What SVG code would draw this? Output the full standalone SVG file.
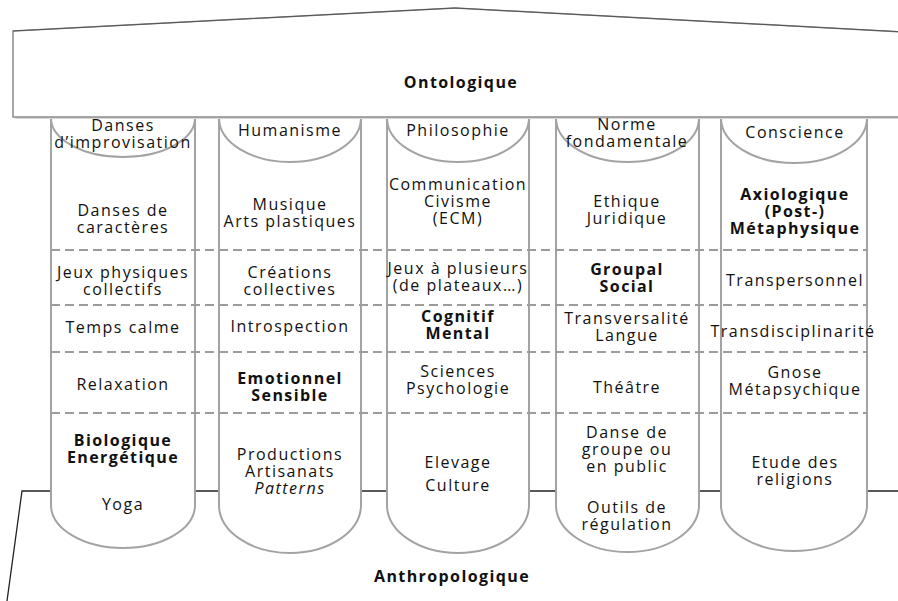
<svg xmlns="http://www.w3.org/2000/svg" width="898" height="601" viewBox="0 0 898 601">
<style>
.col{fill:#fff;stroke:#a3a3a3;stroke-width:2}
.cap{fill:none;stroke:#a3a3a3;stroke-width:2}
.div{fill:none;stroke:#9c9c9c;stroke-width:2.2;stroke-dasharray:9 5}
text{font-family:"Open Sans","Noto Sans","DejaVu Sans",sans-serif;font-size:16px;letter-spacing:1.5px;fill:#111;text-anchor:middle}
.b{font-weight:bold;font-size:16px;letter-spacing:1.4px}
.i{font-style:italic}
</style>
<rect width="898" height="601" fill="#fff"/>
<g id="base">
<path d="M7,601 L22,491 L912,491 L927,601" fill="#fff" stroke="#222" stroke-width="1.3"/>
<text class="b" x="452" y="582">Anthropologique</text>
</g>
<g id="col-1">
<path class="col" d="M51,110 V505 A72 43 0 0 0 195,505 V110"/>
<path class="cap" d="M51,118 A72 39 0 0 0 195,118"/>
</g>
<g id="col-2">
<path class="col" d="M219,110 V505 A71 48 0 0 0 361,505 V110"/>
<path class="cap" d="M219,118 A71 44 0 0 0 361,118"/>
</g>
<g id="col-3">
<path class="col" d="M387,110 V505 A71 48 0 0 0 529,505 V110"/>
<path class="cap" d="M387,118 A71 44 0 0 0 529,118"/>
</g>
<g id="col-4">
<path class="col" d="M556,110 V505 A71.5 47 0 0 0 699,505 V110"/>
<path class="cap" d="M556,118 A71.5 44 0 0 0 699,118"/>
</g>
<g id="col-5">
<path class="col" d="M721,110 V505 A73 46 0 0 0 867,505 V110"/>
<path class="cap" d="M721,118 A73 45 0 0 0 867,118"/>
</g>
<g id="dividers">
<line class="div" x1="51" y1="250" x2="867" y2="250"/>
<line class="div" x1="51" y1="305" x2="867" y2="305"/>
<line class="div" x1="51" y1="352" x2="867" y2="352"/>
<line class="div" x1="51" y1="413" x2="867" y2="413"/>
</g>
<g id="roof">
<rect x="15" y="116" width="890" height="3" fill="#d8d8d8"/>
<path d="M13,31 L455,8 L905,32 V117 H13 Z" fill="#fff" stroke="#8c8c8c" stroke-width="1.5"/>
<path d="M13,31 L455,8 L905,32" fill="none" stroke="#555" stroke-width="1"/>
<text class="b" x="461" y="88">Ontologique</text>
</g>
<g id="col-1-text">
<text x="123" y="131">Danses<tspan x="123" y="148">d’improvisation</tspan></text>
<text x="123" y="216">Danses de<tspan x="123" y="233">caractères</tspan></text>
<text x="123" y="278">Jeux physiques<tspan x="123" y="295">collectifs</tspan></text>
<text x="123" y="333">Temps calme</text>
<text x="123" y="390">Relaxation</text>
<text class="b" x="123" y="446">Biologique<tspan x="123" y="463">Energétique</tspan></text>
<text x="123" y="510">Yoga</text>
</g>
<g id="col-2-text">
<text x="290" y="136">Humanisme</text>
<text x="290" y="210">Musique<tspan x="290" y="227">Arts plastiques</tspan></text>
<text x="290" y="278">Créations<tspan x="290" y="295">collectives</tspan></text>
<text x="290" y="332">Introspection</text>
<text class="b" x="290" y="384">Emotionnel<tspan x="290" y="401">Sensible</tspan></text>
<text x="290" y="460">Productions<tspan x="290" y="477">Artisanats</tspan><tspan class="i" x="290" y="494">Patterns</tspan></text>
</g>
<g id="col-3-text">
<text x="458" y="136">Philosophie</text>
<text x="458" y="190">Communication<tspan x="458" y="207">Civisme</tspan><tspan x="458" y="224">(ECM)</tspan></text>
<text x="458" y="274">Jeux à plusieurs<tspan x="458" y="291">(de plateaux…)</tspan></text>
<text class="b" x="458" y="322">Cognitif<tspan x="458" y="339">Mental</tspan></text>
<text x="458" y="377">Sciences<tspan x="458" y="394">Psychologie</tspan></text>
<text x="458" y="468">Elevage<tspan x="458" y="491">Culture</tspan></text>
</g>
<g id="col-4-text">
<text x="627" y="130">Norme<tspan x="627" y="147">fondamentale</tspan></text>
<text x="627" y="207">Ethique<tspan x="627" y="224">Juridique</tspan></text>
<text class="b" x="627" y="275">Groupal<tspan x="627" y="292">Social</tspan></text>
<text x="627" y="324">Transversalité<tspan x="627" y="341">Langue</tspan></text>
<text x="627" y="393">Théâtre</text>
<text x="627" y="438">Danse de<tspan x="627" y="455">groupe ou</tspan><tspan x="627" y="472">en public</tspan></text>
<text x="627" y="513">Outils de<tspan x="627" y="530">régulation</tspan></text>
</g>
<g id="col-5-text">
<text x="795" y="138">Conscience</text>
<text class="b" x="795" y="200">Axiologique<tspan x="795" y="217">(Post-)</tspan><tspan x="795" y="234">Métaphysique</tspan></text>
<text x="795" y="286">Transpersonnel</text>
<text x="793" y="337">Transdisciplinarité</text>
<text x="795" y="378">Gnose<tspan x="795" y="395">Métapsychique</tspan></text>
<text x="795" y="468">Etude des<tspan x="795" y="485">religions</tspan></text>
</g>
</svg>
